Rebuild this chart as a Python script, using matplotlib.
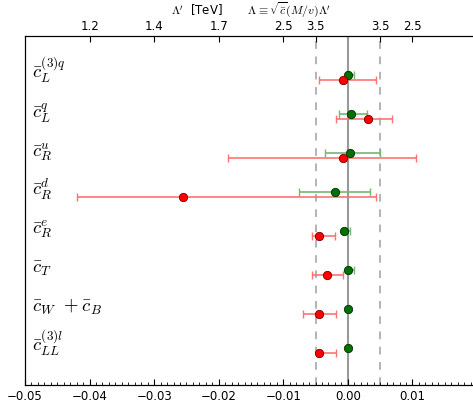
import numpy as np
import matplotlib
matplotlib.use("Agg")
import matplotlib.pyplot as plt
from matplotlib.ticker import MultipleLocator

plt.rcParams['mathtext.fontset'] = 'cm'
plt.rcParams['xtick.direction'] = 'in'
plt.rcParams['ytick.direction'] = 'in'

labels = [r'$\bar{c}_{L}^{(3)q}$', r'$\bar{c}_{L}^{q}$', r'$\bar{c}_{R}^{u}$',
          r'$\bar{c}_{R}^{d}$', r'$\bar{c}_{R}^{e}$', r'$\bar{c}_{T}$',
          r'$\bar{c}_{W}\ +\bar{c}_{B}$', r'$\bar{c}_{LL}^{(3)l}$']

# green fit: central value, lower and upper ends
g_val = [0.0000, 0.0005, 0.0004, -0.0020, -0.0006, 0.0000, 0.0000, 0.0000]
g_lo = [-0.0003, -0.0014, -0.0036, -0.0075, -0.0008, -0.0002, 0.0000, 0.0000]
g_hi = [0.0010, 0.0030, 0.0050, 0.0035, 0.0003, 0.0010, 0.0000, 0.0000]

# red fit
r_val = [-0.0007, 0.0031, -0.0007, -0.0256, -0.0044, -0.0032, -0.0044, -0.0044]
r_lo = [-0.0044, -0.0019, -0.0185, -0.0420, -0.0056, -0.0056, -0.0069, -0.0048]
r_hi = [0.0044, 0.0069, 0.0106, 0.0044, -0.0020, -0.0007, -0.0019, -0.0019]

top_ticks = [-0.04, -0.03, -0.02, -0.01, -0.005, 0.005, 0.01]
top_labels = ['1.2', '1.4', '1.7', '2.5', '3.5', '3.5', '2.5']

n = len(labels)
y = np.arange(n, 0, -1)
g_val = np.array(g_val); r_val = np.array(r_val)
g_err = [g_val - np.array(g_lo), np.array(g_hi) - g_val]
r_err = [r_val - np.array(r_lo), np.array(r_hi) - r_val]

fig = plt.figure(figsize=(4.73, 4.06), dpi=100)
ax = fig.add_axes([25/473, 20/406, 452/473, 349/406])

ax.axvline(0, color='gray', lw=1.5, alpha=0.8, zorder=1)
for xv in (-0.005, 0.005):
    ax.axvline(xv, color='gray', lw=1.1, ls=(0, (5, 5)), alpha=0.75, zorder=1)

ax.errorbar(g_val, y, xerr=g_err, fmt='none', ecolor=(0.45, 0.72, 0.45),
            elinewidth=1.2, capsize=3, capthick=1, zorder=2)
ax.plot(g_val, y, 'o', color='#007000', mec='#003000', mew=0.6, ms=6, zorder=3)
ax.errorbar(r_val, y - 0.14, xerr=r_err, fmt='none', ecolor=(1, 0.45, 0.45),
            elinewidth=1.2, capsize=3, capthick=1, zorder=2)
ax.plot(r_val, y - 0.14, 'o', color='red', mec='#700000', mew=0.6, ms=6, zorder=3)

for yi, lab in zip(y, labels):
    ax.text(-0.0489, yi - 0.06, lab, fontsize=13.5, va='baseline', ha='left')

ax.set_xlim(-0.05, 0.02)
ax.set_ylim(0.05, 9.0)
ax.set_yticks([])
ax.xaxis.set_major_locator(MultipleLocator(0.01))
ax.xaxis.set_minor_locator(MultipleLocator(0.001))
ax.tick_params(axis='x', which='major', length=4, labelsize=8.5, pad=3)
ax.tick_params(axis='x', which='minor', length=2)
ax.set_xticks(np.arange(-0.05, 0.015, 0.01))
ax.set_xticklabels(['−0.05', '−0.04', '−0.03', '−0.02', '−0.01', '0.00', '0.01'])

ax2 = ax.twiny()
ax2.set_xlim(ax.get_xlim())
ax2.set_xticks(top_ticks)
ax2.set_xticklabels(top_labels)
ax2.tick_params(axis='x', length=4, labelsize=8.5, pad=3)
ax2.set_xlabel(r"$\Lambda'$  [TeV]       $\Lambda\equiv\sqrt{\bar{c}}(M/v)\Lambda'$",
               fontsize=8.5, labelpad=4)

fig.savefig('out.png', dpi=100)
